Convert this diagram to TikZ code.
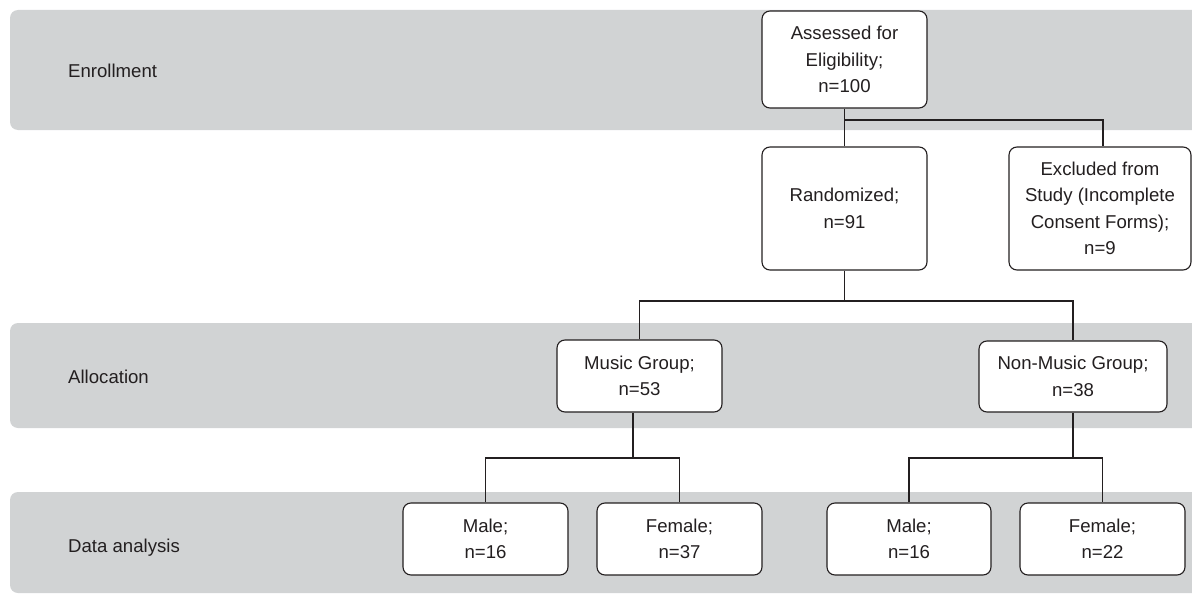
\documentclass[tikz,border=0pt]{standalone}
\usepackage{fontspec}
\setmainfont{Liberation Sans}
\definecolor{bandgray}{HTML}{D1D3D4}
\definecolor{ink}{HTML}{231F20}
\begin{document}
\begin{tikzpicture}[x=1pt,y=-1pt,
  stagebox/.style={draw=ink, line width=1.1pt, rounded corners=8pt, fill=white, align=center, inner sep=0pt, font=\fontsize{18.6}{26.5}\selectfont, text=ink},
  bandlabel/.style={anchor=base west, font=\fontsize{18.6}{22}\selectfont, text=ink, inner sep=0pt},
  band/.style={fill=bandgray, rounded corners=8pt},
  link/.style={draw=ink, line width=1.1pt}]
\useasboundingbox (0,0) rectangle (1192,594);
\clip (0,0) rectangle (1192,594);
% bands
\fill[band] (10,10) rectangle (1215,130);
\fill[band] (10,323) rectangle (1215,428);
\fill[band] (10,492) rectangle (1215,593);
% band labels
\node[bandlabel] (lenroll) at (68,77.3) {Enrollment};
\node[bandlabel] (lalloc) at (68,383.3) {Allocation};
\node[bandlabel] (ldata) at (68,552.7) {Data analysis};
% boxes
\node[stagebox, minimum width=165pt, minimum height=97pt] (assess) at (844.5,59.5) {Assessed for\\Eligibility;\\n=100};
\node[stagebox, minimum width=165pt, minimum height=123pt] (random) at (844.5,208.5) {Randomized;\\n=91};
\node[stagebox, minimum width=182pt, minimum height=123pt] (excl) at (1100,208.5) {Excluded from\\Study (Incomplete\\Consent Forms);\\n=9};
\node[stagebox, minimum width=165pt, minimum height=72pt] (music) at (639.5,376) {Music Group;\\n=53};
\node[stagebox, minimum width=188pt, minimum height=71pt] (nonmusic) at (1073,376.5) {Non-Music Group;\\n=38};
\node[stagebox, minimum width=165pt, minimum height=72pt] (male1) at (485.5,539) {Male;\\n=16};
\node[stagebox, minimum width=165pt, minimum height=72pt] (female1) at (679.5,539) {Female;\\n=37};
\node[stagebox, minimum width=164pt, minimum height=72pt] (male2) at (909,539) {Male;\\n=16};
\node[stagebox, minimum width=165pt, minimum height=72pt] (female2) at (1102.5,539) {Female;\\n=22};
% junctions
\coordinate (j1) at (844.5,120);
\coordinate (j2) at (844.5,301);
\coordinate (j3) at (633,458);
\coordinate (j4) at (1073,458);
% connectors
\draw[link] (assess.south) -- (random.north);
\draw[link] (j1) -| ([xshift=3pt]excl.north);
\draw[link] (random.south) -- (j2);
\draw[link] (music.north) |- (j2) -| (nonmusic.north);
\draw[link] ([xshift=-6.5pt]music.south) -- (j3);
\draw[link] (male1.north) |- (j3) -| (female1.north);
\draw[link] (nonmusic.south) -- (j4);
\draw[link] (male2.north) |- (j4) -| (female2.north);
\end{tikzpicture}
\end{document}
